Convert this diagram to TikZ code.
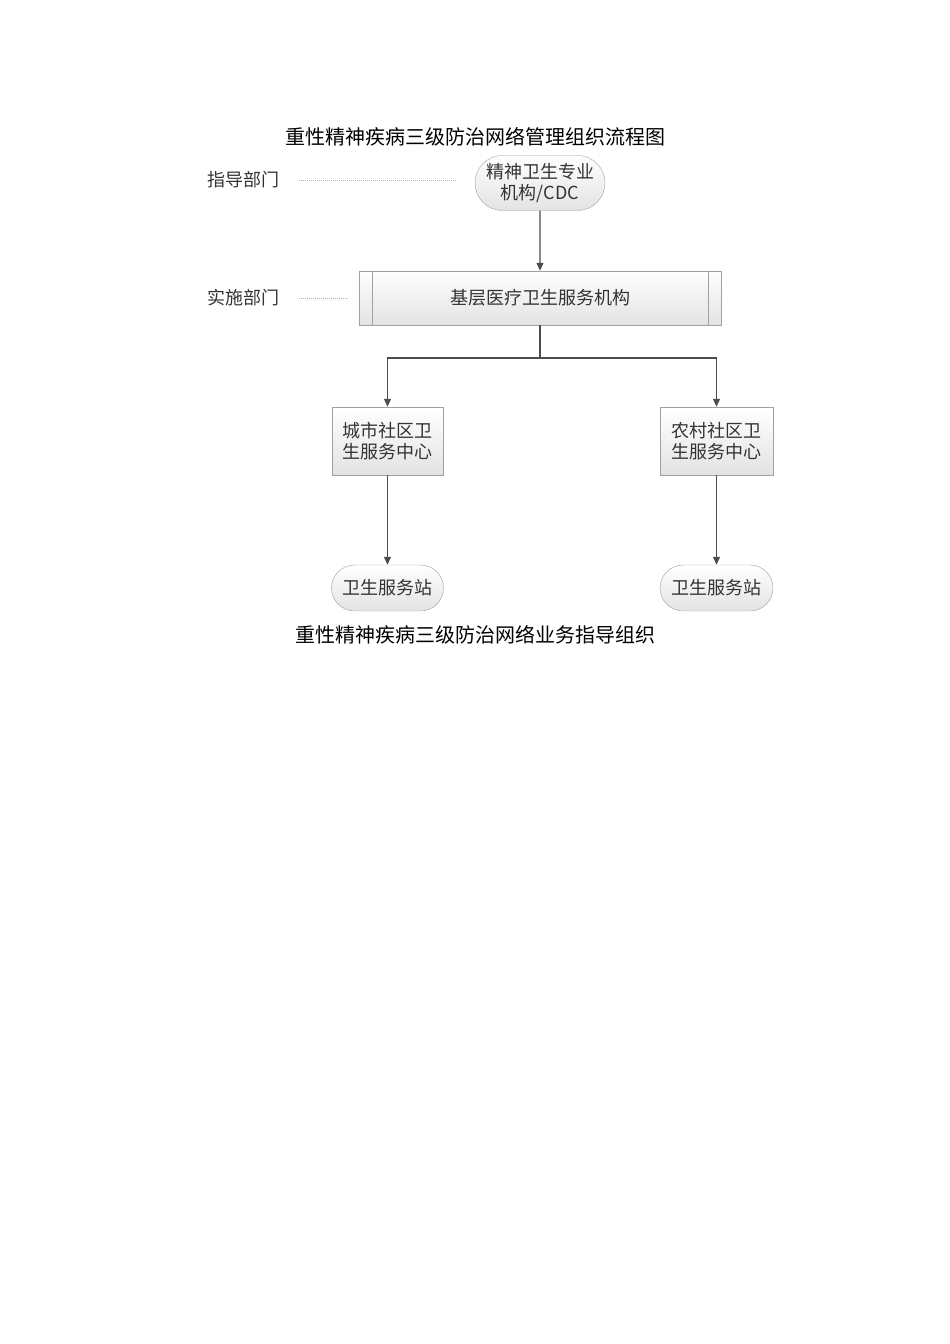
\documentclass[tikz,border=0pt]{standalone}
\usepackage{fontspec}
\setmainfont{Noto Sans CJK SC}
\usetikzlibrary{arrows.meta,shapes.misc}
\definecolor{txt}{HTML}{333333}
\definecolor{bord}{HTML}{A0A0A0}
\tikzset{
 box/.style={draw=bord,top color=white,bottom color=gray!22,text=txt,font=\fontsize{18}{21}\selectfont,inner sep=0pt,align=center},
 term/.style={box,rounded rectangle},
 arr/.style={draw=black!70,line width=1.2pt,-{Triangle[length=8pt,width=7pt]}},
 guide/.style={draw=gray!60,dash pattern=on 1pt off 1pt},
 lbl/.style={text=txt,font=\fontsize{18}{21}\selectfont},
}
\begin{document}
\begin{tikzpicture}[x=1pt,y=-1pt]
\useasboundingbox (0,0) rectangle (950,1344);
\node[font=\fontsize{20}{24}\selectfont] (t1) at (475,137) {重性精神疾病三级防治网络管理组织流程图};
\node[term,minimum width=130pt,minimum height=55pt] (top) at (540,183) {精神卫生专业\\机构/CDC};
\node[box,minimum width=362pt,minimum height=54pt] (mid) at (540,298) {基层医疗卫生服务机构};
\draw[bord] ([xshift=13pt]mid.north west) -- ([xshift=13pt]mid.south west);
\draw[bord] ([xshift=-13pt]mid.north east) -- ([xshift=-13pt]mid.south east);
\node[lbl] (l1) at (243,180) {指导部门};
\node[lbl] (l2) at (243,298) {实施部门};
\coordinate (g1) at (455,180);
\coordinate (g2) at (347,298);
\draw[guide] ([xshift=16pt]l1.east) -- (g1);
\draw[guide] ([xshift=16pt]l2.east) -- (g2);
\node[box,minimum width=111pt,minimum height=68pt] (c1) at (387.5,441) {城市社区卫\\生服务中心};
\node[box,minimum width=113pt,minimum height=68pt] (c2) at (716.5,441) {农村社区卫\\生服务中心};
\node[term,minimum width=112pt,minimum height=46pt] (s1) at (387.5,588) {卫生服务站};
\node[term,minimum width=113pt,minimum height=46pt] (s2) at (716.5,588) {卫生服务站};
\draw[arr] (top) -- (mid);
\coordinate (j) at (540,358);
\draw[draw=black!70,line width=1.2pt] (mid.south -| j) -- (j);
\draw[arr] (j) -| (c1);
\draw[arr] (j) -| (c2);
\draw[arr] (c1) -- (s1);
\draw[arr] (c2) -- (s2);
\node[font=\fontsize{20}{24}\selectfont] (t2) at (475,635) {重性精神疾病三级防治网络业务指导组织};
\end{tikzpicture}
\end{document}
